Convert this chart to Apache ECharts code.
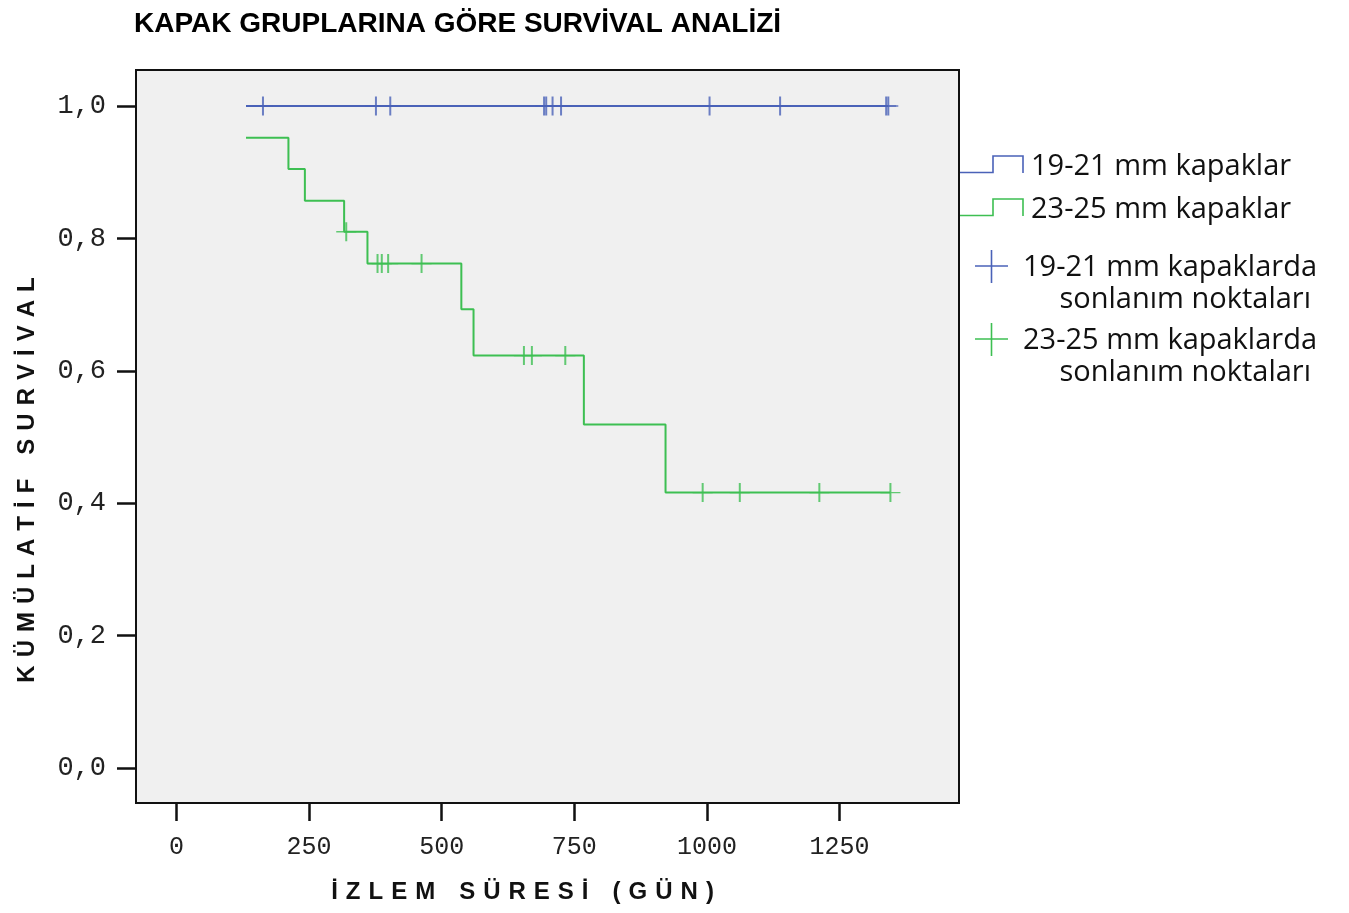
<!DOCTYPE html>
<html>
<head>
<meta charset="utf-8">
<script src="https://cdn.jsdelivr.net/npm/echarts@6/dist/echarts.min.js"></script>
<style>
  html, body { margin: 0; padding: 0; background: #ffffff; }
  #chart { width: 1349px; height: 913px; }
</style>
</head>
<body>
<div id="chart"></div>
<script>
// ---- chart texts ----
const titleText = 'KAPAK GRUPLARINA GÖRE SURVİVAL ANALİZİ';
const xAxisName = 'İZLEM SÜRESİ (GÜN)';
const yAxisName = 'KÜMÜLATİF SURVİVAL';
const xTicks = [0, 250, 500, 750, 1000, 1250];
const yTicks = [0, 0.2, 0.4, 0.6, 0.8, 1.0];
const groupNames = ['19-21 mm kapaklar', '23-25 mm kapaklar'];
const censorNames = ['19-21 mm kapaklarda sonlanım noktaları', '23-25 mm kapaklarda sonlanım noktaları'];
const censorLegendLines = [
  ['19-21 mm kapaklarda', 'sonlanım noktaları'],
  ['23-25 mm kapaklarda', 'sonlanım noktaları']
];

// ---- Kaplan-Meier steps: [day, cumulative survival from that day on] ----
const smallValveSurvival = [[131, 1.0], [1342, 1.0]];
const largeValveSurvival = [
  [131, 0.952], [211, 0.905], [242, 0.857], [316, 0.810], [360, 0.762],
  [537, 0.693], [560, 0.623], [768, 0.519], [922, 0.416], [1346, 0.416]
];

// ---- censored follow-up days ----
const smallValveCensored = [163, 376, 403, 693, 697, 709, 725, 1005, 1138, 1338, 1342];
const largeValveCensored = [320, 379, 387, 399, 462, 655, 670, 733, 992, 1062, 1212, 1346];

const BLUE = '#4a62b8';
const GREEN = '#3dbf52';

// survival level of a step curve at a given day
function survivalAt(steps, day) {
  let s = steps[0][1];
  for (const [t, v] of steps) { if (t <= day) s = v; }
  return s;
}
const censorPoints = (steps, days) => days.map(d => [d, survivalAt(steps, d)]);

// plus-shaped censor mark (filled bars so the stroke width stays fixed)
const plusMark = 'path://M0,9.3L20,9.3L20,10.7L0,10.7Z M9,0L11,0L11,20L9,20Z';

// letter-spaced axis titles (three-per-em spaces between letters)
const GAP = '\u2004';
const spaced = s => s.split('').map(c => (c === ' ' ? GAP : c)).join(GAP);

const chart = echarts.init(document.getElementById('chart'), null, { renderer: 'canvas' });

const legendFont = { fontFamily: "'Open Sans', sans-serif", fontSize: 29, fill: '#111' };
const monoFont = "'Liberation Mono', 'DejaVu Sans Mono', monospace";
const boldFont = "'Liberation Sans', Arial, sans-serif";

const option = {
  backgroundColor: '#ffffff',
  animation: false,
  title: {
    text: titleText,
    left: 129, top: 5,
    textStyle: { fontFamily: boldFont, fontWeight: 'bold', fontSize: 28, color: '#000' }
  },
  grid: {
    left: 136, top: 70, width: 823, height: 733,
    show: true, backgroundColor: '#f0f0f0', borderColor: '#111', borderWidth: 2
  },
  xAxis: {
    type: 'value', min: -76.4, max: 1475.3,
    name: spaced(xAxisName), nameLocation: 'middle', nameGap: 77,
    nameTextStyle: {
      fontFamily: boldFont, fontWeight: 'bold', fontSize: 24, color: '#111',
      verticalAlign: 'top', padding: [0, 50, 0, 0]
    },
    axisLine: { show: false, onZero: false },
    splitLine: { show: false },
    axisTick: { show: true, inside: false, length: 18, customValues: xTicks, lineStyle: { color: '#111', width: 2.5 } },
    axisLabel: {
      customValues: xTicks, margin: 32,
      fontFamily: monoFont, fontSize: 25, color: '#222',
      formatter: v => String(v)
    }
  },
  yAxis: {
    type: 'value', min: -0.0529, max: 1.0544,
    name: spaced(yAxisName), nameLocation: 'middle', nameGap: 97,
    nameTextStyle: {
      fontFamily: boldFont, fontWeight: 'bold', fontSize: 24, color: '#111',
      padding: [0, 87, 0, 0]
    },
    axisLine: { show: false, onZero: false },
    splitLine: { show: false },
    axisTick: { show: true, inside: false, length: 19, customValues: yTicks, lineStyle: { color: '#111', width: 2.5 } },
    axisLabel: {
      customValues: yTicks, margin: 30,
      fontFamily: monoFont, fontSize: 27, color: '#222',
      formatter: v => v.toFixed(1).replace('.', ',')
    }
  },
  series: [
    {
      name: groupNames[0], type: 'line', step: 'end', data: smallValveSurvival,
      showSymbol: false, lineStyle: { color: BLUE, width: 2 }, itemStyle: { color: BLUE }, z: 2
    },
    {
      name: groupNames[1], type: 'line', step: 'end', data: largeValveSurvival,
      showSymbol: false, lineStyle: { color: GREEN, width: 2 }, itemStyle: { color: GREEN }, z: 2
    },
    {
      name: censorNames[0], type: 'scatter', data: censorPoints(smallValveSurvival, smallValveCensored),
      symbol: plusMark, symbolSize: [20, 19], itemStyle: { color: BLUE }, z: 3
    },
    {
      name: censorNames[1], type: 'scatter', data: censorPoints(largeValveSurvival, largeValveCensored),
      symbol: plusMark, symbolSize: [20, 19], itemStyle: { color: GREEN }, z: 3
    }
  ],
  graphic: [
    // step-line keys
    { type: 'polyline', shape: { points: [[960, 172.5], [993, 172.5], [993, 156], [1023, 156], [1023, 173]] },
      style: { stroke: BLUE, lineWidth: 1.6, fill: null } },
    { type: 'text', left: 1031, top: 152, style: Object.assign({ text: groupNames[0] }, legendFont) },
    { type: 'polyline', shape: { points: [[960, 215.5], [993, 215.5], [993, 199], [1023, 199], [1023, 216]] },
      style: { stroke: GREEN, lineWidth: 1.6, fill: null } },
    { type: 'text', left: 1031, top: 195, style: Object.assign({ text: groupNames[1] }, legendFont) },
    // censor-mark keys
    { type: 'polyline', shape: { points: [[975, 266], [1008, 266]] }, style: { stroke: BLUE, lineWidth: 1.6 } },
    { type: 'polyline', shape: { points: [[991.5, 250], [991.5, 283]] }, style: { stroke: BLUE, lineWidth: 1.6 } },
    { type: 'text', right: 32, top: 253, style: Object.assign({ text: censorLegendLines[0][0] }, legendFont) },
    { type: 'text', right: 38, top: 285, style: Object.assign({ text: censorLegendLines[0][1] }, legendFont) },
    { type: 'polyline', shape: { points: [[975, 339], [1008, 339]] }, style: { stroke: GREEN, lineWidth: 1.6 } },
    { type: 'polyline', shape: { points: [[991.5, 323], [991.5, 356]] }, style: { stroke: GREEN, lineWidth: 1.6 } },
    { type: 'text', right: 32, top: 326, style: Object.assign({ text: censorLegendLines[1][0] }, legendFont) },
    { type: 'text', right: 38, top: 358, style: Object.assign({ text: censorLegendLines[1][1] }, legendFont) }
  ]
};

chart.setOption(option);
</script>
</body>
</html>
